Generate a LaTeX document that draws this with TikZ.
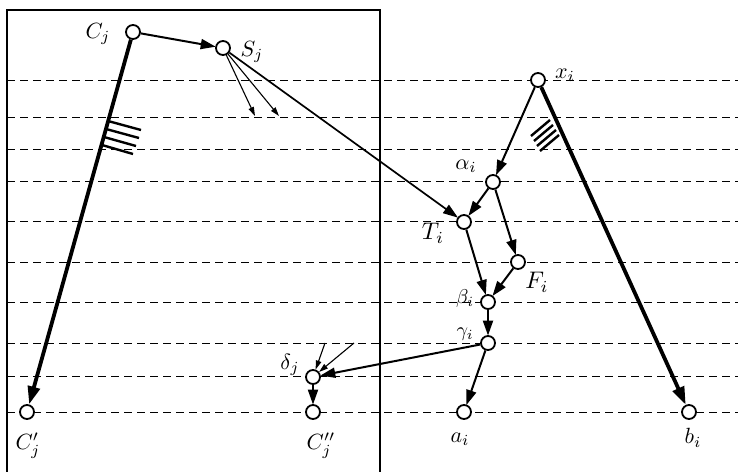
\documentclass[tikz,border=0pt]{standalone}
\usetikzlibrary{arrows.meta}
\newcommand\mylbl[2][2.2]{\scalebox{#1}{$#2$}}
\begin{document}
\begin{tikzpicture}[x=1pt,y=-1pt,
  v/.style={circle,draw,line width=1.8pt,minimum size=14pt,inner sep=0pt,fill=white},
  lab/.style={inner sep=0pt},
  guide/.style={dashed,dash pattern=on 8pt off 5pt,line width=0.8pt},
  normal/.style={line width=2pt,-{Triangle[length=15pt,width=10pt]},shorten >=-0.5pt},
  thick arr/.style={line width=3.8pt,-{Triangle[length=18pt,width=12pt]}},
  thin arr/.style={line width=1.1pt,-{Triangle[length=9pt,width=5.5pt]}},
  hatch/.style={line width=2.4pt}]
\useasboundingbox (0,0) rectangle (738,471);
% frame
\draw[line width=1.8pt] (7,480) -- (7,10) -- (380,10) -- (380,480);
% guide lines
\foreach \y in {80,117,149,181,221,262,302,343,376,412}
  \draw[guide] (7,\y) -- (738,\y);
% nodes
\node[v] (Cj) at (133,32) {};
\node[v] (Sj) at (223,48) {};
\node[v] (xi) at (538,80) {};
\node[v] (al) at (493,182) {};
\node[v] (Ti) at (464,222) {};
\node[v] (Fi) at (518,262) {};
\node[v] (be) at (488,302) {};
\node[v] (ga) at (488,343) {};
\node[v] (ai) at (464,412) {};
\node[v] (bi) at (689,412) {};
\node[v] (de) at (313,377) {};
\node[v] (Cpp) at (313,412) {};
\node[v] (Cp) at (27,412) {};
% labels
\node[lab] (lCj) at (98,34) {\mylbl{C_j}};
\node[lab] (lSj) at (252,52) {\mylbl{S_j}};
\node[lab] (lxi) at (565,75) {\mylbl{x_i}};
\node[lab] (lal) at (466,166) {\mylbl{\alpha_i}};
\node[lab] (lTi) at (433,233) {\mylbl[2.4]{T_i}};
\node[lab] (lFi) at (537,282) {\mylbl[2.4]{F_i}};
\node[lab] (lbe) at (465,298) {\mylbl[2.0]{\beta_i}};
\node[lab] (lga) at (465,334) {\mylbl[2.0]{\gamma_i}};
\node[lab] (lde) at (290,365) {\mylbl{\delta_j}};
\node[lab] (lCp) at (28,446) {\mylbl{C'_j}};
\node[lab] (lCpp) at (321,446) {\mylbl{C''_j}};
\node[lab] (lai) at (460,439) {\mylbl{a_i}};
\node[lab] (lbi) at (693,438) {\mylbl{b_i}};
% free ends
\coordinate (s1) at (255,116);
\coordinate (s2) at (279,116);
\coordinate (d1) at (325,343);
\coordinate (d2) at (354,343);
% connectors
\draw[normal] (Cj) -- (Sj);
\draw[thick arr] (Cj) -- (Cp);
\draw[thick arr] (xi) -- (bi);
\draw[normal,line width=1.7pt] (Sj) -- (Ti);
\draw[thin arr] (Sj) -- (s1);
\draw[thin arr] (Sj) -- (s2);
\draw[normal] (xi) -- (al);
\draw[normal] (al) -- (Ti);
\draw[normal] (al) -- (Fi);
\draw[normal] (Ti) -- (be);
\draw[normal] (Fi) -- (be);
\draw[normal] (be) -- (ga);
\draw[normal] (ga) -- (ai);
\draw[normal] (ga) -- (de);
\draw[normal] (de) -- (Cpp);
\draw[thin arr] (d1) -- (de);
\draw[thin arr] (d2) -- (de);
% hatch marks
\draw[hatch] (108,121) -- (141,130);
\draw[hatch] (106,129) -- (139,138);
\draw[hatch] (104,137) -- (136,146);
\draw[hatch] (102,145) -- (133,154);
\draw[hatch] (531,136) -- (550,120);
\draw[hatch] (534,141) -- (553,125);
\draw[hatch] (537,146) -- (556,130);
\draw[hatch] (540,151) -- (559,135);
\end{tikzpicture}
\end{document}
